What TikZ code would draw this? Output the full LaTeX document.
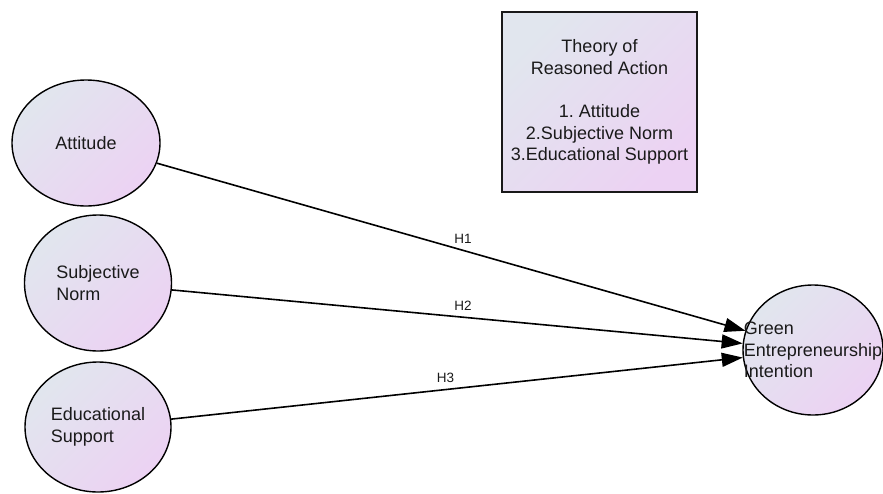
\documentclass[tikz,border=0pt]{standalone}
\usepackage{fontspec}
\setmainfont{Liberation Sans}
\usepackage{xcolor}
\usetikzlibrary{shapes.geometric,arrows.meta}
\definecolor{fillA}{HTML}{E1E6EE}
\definecolor{fillB}{HTML}{ECD2F3}
\definecolor{inkc}{HTML}{1A1A1A}
\frenchspacing

\begin{document}
\begin{tikzpicture}[x=1pt,y=-1pt,
	bubble/.style={draw, ellipse, line width=1.4pt, inner sep=0pt,
		top color=fillA, bottom color=fillB, shading angle=45},
	bubbletext/.style={align=left, inner sep=0pt, text=inkc,
		font=\fontsize{18}{21.7}\selectfont},
	tra/.style={draw=black!90, line width=1.4pt, align=center, text=inkc,
		top color=fillA, bottom color=fillB, shading angle=45,
		minimum width=195pt, minimum height=180pt,
		font=\fontsize{18}{21.7}\selectfont},
	hyp/.style={font=\fontsize{13.5}{15}\selectfont, text=inkc, inner sep=1pt},
	link/.style={line width=1.6pt, -{Triangle[length=21pt,width=14pt]}}]
				\useasboundingbox (0,0) rectangle (883,493);
				%predictors on the left, placed by hand
				\node[bubble, minimum width=148pt, minimum height=126pt] (att) at (86,143) {};
				\node[bubble, minimum width=147pt, minimum height=136pt] (sn) at (98,283) {};
				\node[bubble, minimum width=146pt, minimum height=130pt] (es) at (98,427) {};
				%% outcome on the right
				\node[bubble, minimum width=140pt, minimum height=130pt] (gei) at (813,350) {};

				\node[bubbletext] (att-t) at (att) {Attitude};
				\node[bubbletext] (sn-t) at (sn) {Subjective\\Norm};
				\node[bubbletext] (es-t) at (es) {Educational\\Support};
				\node[bubbletext] (gei-t) at (gei) {Green\\Entrepreneurship\\Intention};

				%theory box
				\node[tra] (tra) at (599.5,102) {Theory of\\Reasoned Action\\[21.7pt]1. Attitude\\2.Subjective Norm\\3.Educational Support};

				%% hypothesis paths drawn with a loop
				\foreach \src/\h/\p in {att/H1/0.52, sn/H2/0.51, es/H3/0.48}{
					\draw [link](\src)--(gei) node[hyp, above=5pt, pos=\p] (\h) {\h};
					}
				\end{tikzpicture}
\end{document}
